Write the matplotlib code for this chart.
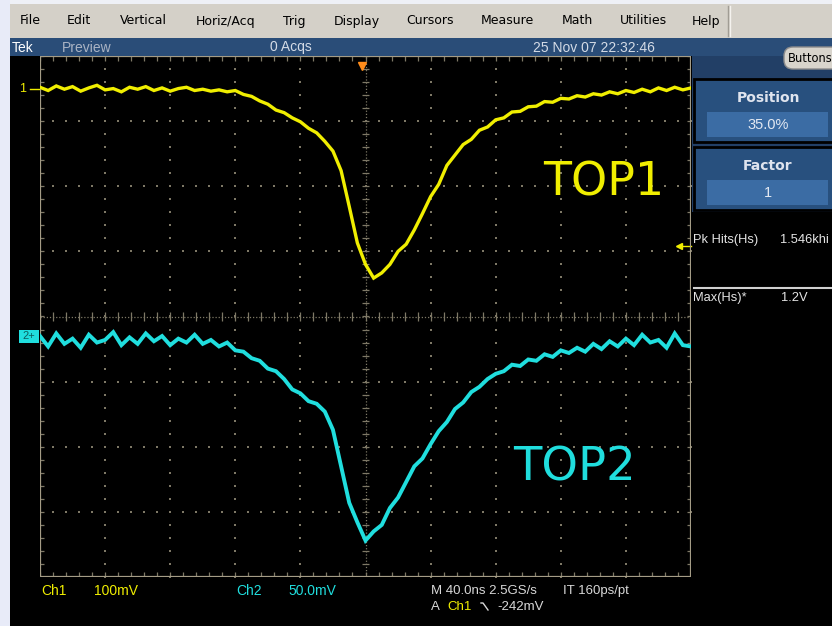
import numpy as np
import matplotlib.pyplot as plt
from matplotlib.patches import Rectangle, FancyBboxPatch

# Scope settings (read from the readout)
ns_per_div = 40.0
ch1_mv_per_div = 100.0
ch2_mv_per_div = 50.0
ch1_offset_div = 3.5
ch2_offset_div = -0.3
trig_level_mv = -242.0

# Sample times (ns, trigger at 0)
time_ns = [-200, -195, -190, -185, -180, -175, -170, -165, -160, -155,
           -150, -145, -140, -135, -130, -125, -120, -115, -110, -105,
           -100, -95, -90, -85, -80, -75, -70, -65, -60, -55,
           -50, -45, -40, -35, -30, -25, -20, -15, -10, -5,
           0, 5, 10, 15, 20, 25, 30, 35, 40, 45,
           50, 55, 60, 65, 70, 75, 80, 85, 90, 95,
           100, 105, 110, 115, 120, 125, 130, 135, 140, 145,
           150, 155, 160, 165, 170, 175, 180, 185, 190, 195,
           200]

# Ch1 (TOP1) in mV relative to its ground marker
ch1_mv = [2, -3, 4, -1, 3, -4, 1, 5, -2, 0,
          -5, 2, -1, 3, -3, 1, -4, 0, 2, -3,
          -1, -4, -2, -5, -3, -9, -12, -19, -24, -33,
          -37, -45, -51, -61, -68, -81, -96, -126, -181, -237,
          -270, -291, -283, -270, -250, -239, -217, -192, -166, -147,
          -118, -102, -86, -78, -64, -59, -48, -45, -36, -35,
          -28, -27, -20, -21, -15, -16, -11, -13, -8, -10,
          -5, -8, -3, -6, -1, -5, 1, -3, 2, -2,
          1]

# Ch2 (TOP2) in mV relative to its ground marker
ch2_mv = [0, -8, 2, -6, -2, -9, 1, -5, -3, 3,
          -7, -1, -6, 2, -4, 0, -7, -2, -5, 1,
          -6, -3, -8, -5, -11, -12, -17, -19, -25, -27,
          -33, -41, -44, -50, -52, -58, -72, -100, -128, -143,
          -157, -150, -145, -132, -124, -112, -100, -94, -83, -73,
          -66, -56, -51, -43, -39, -33, -29, -27, -22, -23,
          -18, -19, -14, -16, -11, -13, -9, -12, -6, -10,
          -4, -8, -2, -7, 1, -5, -3, -9, 2, -7,
          -8]

menu_items = ['File', 'Edit', 'Vertical', 'Horiz/Acq', 'Trig', 'Display',
              'Cursors', 'Measure', 'Math', 'Utilities', 'Help']
menu_x = [20, 67, 120, 196, 283, 334, 406, 481, 562, 620, 692]

yellow = '#f0ee00'
cyan = '#20dede'
grid_c = '#7e7866'
border_c = '#a49c86'
narrow = ['Liberation Sans Narrow', 'Liberation Sans', 'DejaVu Sans']
arial = ['Liberation Sans', 'DejaVu Sans']

fig = plt.figure(figsize=(8.32, 6.26), dpi=100, facecolor='black')

# ---- graticule / waveforms (units: divisions) ----
ax = fig.add_axes([40 / 832, (626 - 577) / 626, 651 / 832, 521 / 626], zorder=1)
ax.set_facecolor('black')
ax.set_xlim(-5, 5)
ax.set_ylim(-4, 4)
ax.set_xticks([])
ax.set_yticks([])
for s in ax.spines.values():
    s.set_visible(False)

xs_minor = np.arange(-5, 5.001, 0.2)
ys_minor = np.arange(-4, 4.001, 0.2)
for gx in [-4, -3, -2, -1, 1, 2, 3, 4]:
    ax.scatter(np.full(len(ys_minor), gx), ys_minor, s=2, c=grid_c, marker='s', lw=0)
for gy in [-3, -2, -1, 1, 2, 3]:
    ax.scatter(xs_minor, np.full(len(xs_minor), gy), s=2, c=grid_c, marker='s', lw=0)
ax.axvline(0, color=grid_c, lw=0.9, ls=(0, (1, 1.5)))
ax.axhline(0, color=grid_c, lw=0.9, ls=(0, (1, 1.5)))
ax.hlines(ys_minor, -0.06, 0.06, color=grid_c, lw=0.9)
ax.vlines(xs_minor, -0.07, 0.07, color=grid_c, lw=0.9)
ax.hlines(ys_minor, -5, -4.94, color=grid_c, lw=0.9)
ax.hlines(ys_minor, 4.94, 5, color=grid_c, lw=0.9)
ax.vlines(xs_minor, -4, -3.93, color=grid_c, lw=0.9)
ax.vlines(xs_minor, 3.93, 4, color=grid_c, lw=0.9)
ax.add_patch(Rectangle((-5, -4), 10, 8, fill=False, ec=border_c, lw=1.6, zorder=3))

t_div = np.array(time_ns) / ns_per_div
y1 = ch1_offset_div + np.array(ch1_mv) / ch1_mv_per_div
y2 = ch2_offset_div + np.array(ch2_mv) / ch2_mv_per_div
ax.plot(t_div, y1, color=yellow, lw=2.4, zorder=4, solid_joinstyle='miter')
ax.plot(t_div, y2, color=cyan, lw=2.8, zorder=4, solid_joinstyle='miter')

# channel ground markers
ax.text(-5.22, ch1_offset_div, '1', color=yellow, fontsize=9, ha='right', va='center',
        family=narrow, clip_on=False)
ax.plot([-5.15, -5.0], [ch1_offset_div] * 2, color=yellow, lw=1, clip_on=False)
ax.add_patch(Rectangle((-5.33, ch2_offset_div - 0.1), 0.31, 0.2, fc=cyan, ec='none',
                       clip_on=False))
ax.text(-5.27, ch2_offset_div, '2+', color='#0b5e5e', fontsize=8, ha='left', va='center',
        family=narrow, clip_on=False)

# trigger position and level
ax.plot([-0.06], [3.84], marker='v', color='#ff8c1a', ms=6, clip_on=False, zorder=5)
lvl = ch1_offset_div + trig_level_mv / ch1_mv_per_div
ax.plot([4.82, 5.0], [lvl, lvl], color=yellow, lw=1, clip_on=False)
ax.plot([4.82], [lvl], marker='<', color=yellow, ms=4, clip_on=False)

# ---- window chrome (pixel units) ----
ui = fig.add_axes([0, 0, 1, 1], zorder=3)
ui.set_xlim(0, 832)
ui.set_ylim(626, 0)
ui.axis('off')

ui.add_patch(Rectangle((0, 0), 10, 626, fc='#e8ebf8', ec='none'))
ui.add_patch(Rectangle((10, 0), 822, 4, fc='#eef0f6', ec='none'))
ui.add_patch(Rectangle((10, 4), 822, 34, fc='#d4d0c8', ec='none'))
ui.plot([728, 728], [6, 36], color='#a09c94', lw=1)
ui.plot([729.5, 729.5], [6, 36], color='#f4f2ee', lw=1)
for name, x in zip(menu_items, menu_x):
    ui.text(x, 21, name, fontsize=9, color='black', va='center', family='DejaVu Sans')

# status bar
ui.add_patch(Rectangle((10, 38), 822, 18, fc='#2a4d78', ec='none'))
ui.text(12, 47.5, 'Tek', color='white', fontsize=10, va='center', family=narrow)
ui.text(62, 47.5, 'Preview', color='#aab4c4', fontsize=10, va='center', family=narrow)
ui.text(270, 47.5, '0 Acqs', color='#d4dbe6', fontsize=10, va='center', family=narrow)
ui.text(533, 47.5, '25 Nov 07 22:32:46', color='#d4dbe6', fontsize=10, va='center',
        family=narrow)

# right side panel
ui.add_patch(Rectangle((692, 56), 140, 156, fc='#223f66', ec='none'))
ui.add_patch(FancyBboxPatch((784, 47), 60, 22, boxstyle='round,pad=0,rounding_size=9',
                            fc='#d8d4cc', ec='#8c8c8c', lw=1))
ui.text(788, 58.5, 'Buttons', fontsize=8.3, color='black', va='center', family='DejaVu Sans')
for top, label, value in [(79, 'Position', '35.0%'), (147, 'Factor', '1')]:
    ui.add_patch(Rectangle((694, top), 140, 63, fc='#28507e', ec='black', lw=2))
    ui.add_patch(Rectangle((707, top + 33), 121, 25, fc='#3b6ca4', ec='none'))
    ui.text(768, top + 19, label, color='#dfe4ee', fontsize=10, fontweight='bold',
            ha='center', va='center', family='DejaVu Sans')
    ui.text(768, top + 46, value, color='#e2e8f2', fontsize=10.5, ha='center', va='center',
            family=narrow)

ui.text(693, 240, 'Pk Hits(Hs)', color='#e4e4e4', fontsize=9.3, va='center', family=arial)
ui.text(780, 240, '1.546khi', color='#e4e4e4', fontsize=9.3, va='center', family=arial)
ui.plot([694, 832], [288, 288], color='#d0d0d0', lw=1.5)
ui.text(693, 298, 'Max(Hs)*', color='#e4e4e4', fontsize=9.3, va='center', family=arial)
ui.text(781, 298, '1.2V', color='#e4e4e4', fontsize=9.3, va='center', family=arial)

# big labels
ui.text(543, 183, 'TOP1', color=yellow, fontsize=33, va='center', family='DejaVu Sans')
ui.text(513, 468, 'TOP2', color=cyan, fontsize=33.5, va='center', family='DejaVu Sans')

# bottom readout
ui.text(41, 591, 'Ch1', color=yellow, fontsize=10, va='center', family=narrow)
ui.text(94, 591, '100mV', color=yellow, fontsize=10, va='center', family=narrow)
ui.text(236, 591, 'Ch2', color=cyan, fontsize=10, va='center', family=narrow)
ui.text(288, 591, '50.0mV', color=cyan, fontsize=10, va='center', family=narrow)
ui.text(431, 591, 'M 40.0ns 2.5GS/s', color='#d8d8d8', fontsize=9.5, va='center', family=arial)
ui.text(563, 591, 'IT 160ps/pt', color='#d8d8d8', fontsize=9.5, va='center', family=arial)
ui.text(431, 607, 'A', color='#d8d8d8', fontsize=9.5, va='center', family=arial)
ui.text(447, 607, 'Ch1', color=yellow, fontsize=9.5, va='center', family=arial)
ui.plot([481, 483, 488], [603, 603, 610], color='#d8d8d8', lw=1)
ui.text(497, 607, '-242mV', color='#d8d8d8', fontsize=9.5, va='center', family=arial)

fig.savefig('out.png', dpi=100, facecolor='black')
